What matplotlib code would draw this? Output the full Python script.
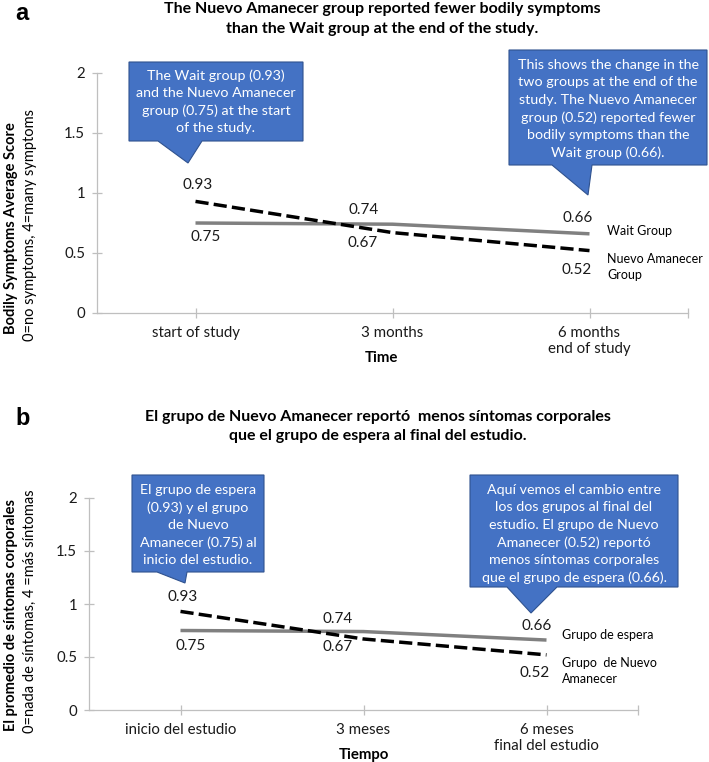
import matplotlib
matplotlib.use("Agg")
import matplotlib.pyplot as plt
from matplotlib.patches import Polygon
from matplotlib.transforms import Affine2D

# data
wait_scores = [0.75, 0.74, 0.66]
nuevo_scores = [0.93, 0.67, 0.52]
time_en = ["start of study", "3 months", "6 months\nend of study"]
time_es = ["inicio del estudio", "3 meses", "6 meses\nfinal del estudio"]
yticks = [0, 0.5, 1, 1.5, 2]

W, H = 709, 762
plt.rcParams["font.family"] = ["Lato", "DejaVu Sans"]

fig = plt.figure(figsize=(W / 100, H / 100), dpi=100)
# pixel coords, origin top-left
px = Affine2D().scale(1 / W, -1 / H).translate(0, 1) + fig.transFigure

BLUE = "#4472C4"
GRAY_LINE = "#808080"
AXIS = "#bfbfbf"
TXT = "#1a1a1a"


def callout(x0, x1, y0, y1, b0, b1, tip, lines, tx, ty):
    pts = [(x0, y0), (x1, y0), (x1, y1), (b1, y1), tip, (b0, y1), (x0, y1)]
    fig.add_artist(Polygon(pts, closed=True, transform=px, facecolor=BLUE,
                           edgecolor="#2F528F", lw=0.8))
    fig.text(tx, ty, "\n".join(lines), transform=px, ha="center", va="center",
             color="white", fontsize=10.3, linespacing=1.52)


def panel(rect, xlabels, wait_off, nuevo_off):
    ax = fig.add_axes(rect)
    x = range(len(wait_scores))
    ax.plot(x, wait_scores, color=GRAY_LINE, lw=2.5, solid_capstyle="butt")
    ax.plot(x, nuevo_scores, color="black", lw=2.5, dashes=(3.8, 1.5))
    ax.set_xlim(-0.5, 2.5)
    ax.set_ylim(0, 2)
    ax.set_yticks(yticks, ["0", "0.5", "1", "1.5", "2"])
    ax.set_xticks([0, 1, 2, 2.5], xlabels + [""])
    for s in ["top", "right"]:
        ax.spines[s].set_visible(False)
    for s in ["left", "bottom"]:
        ax.spines[s].set_color(AXIS)
        ax.spines[s].set_linewidth(0.9)
    ax.tick_params(axis="both", direction="inout", color=AXIS, length=7,
                   width=0.9, labelsize=10.8, labelcolor=TXT)
    ax.tick_params(axis="x", pad=6)
    ax.tick_params(axis="y", pad=5)
    for i in x:
        ax.annotate(f"{wait_scores[i]:.2f}", (i, wait_scores[i]), xytext=wait_off[i],
                    textcoords="offset pixels", ha="center", va="center",
                    fontsize=11, color=TXT)
        ax.annotate(f"{nuevo_scores[i]:.2f}", (i, nuevo_scores[i]), xytext=nuevo_off[i],
                    textcoords="offset pixels", ha="center", va="center",
                    fontsize=11, color=TXT)
    return ax


# ---------- panel a ----------
panel([97 / W, 1 - 313 / H, 591 / W, 240 / H], time_en,
      [(10, -14), (-29, 14), (-12, 16)], [(2, 16), (-30, -10), (-13, -19)])

fig.text(15, 20, "a", transform=px, fontsize=17, fontweight="bold",
         family="Liberation Sans", va="baseline", ha="left")
fig.text(382, 13, "The Nuevo Amanecer group reported fewer bodily symptoms",
         transform=px, ha="center", va="baseline", fontsize=11.5, fontweight="bold")
fig.text(382, 33, "than the Wait group at the end of the study.",
         transform=px, ha="center", va="baseline", fontsize=11.5, fontweight="bold")
fig.text(11, 228, "Bodily Symptoms Average Score", transform=px, rotation=90,
         ha="center", va="center", fontsize=10.5, fontweight="bold")
fig.text(30, 225, "0=no symptoms, 4=many symptoms", transform=px, rotation=90,
         ha="center", va="center", fontsize=10.5)
fig.text(381, 358, "Time", transform=px, ha="center", va="center",
         fontsize=10.8, fontweight="bold")
fig.text(607, 231, "Wait Group", transform=px, ha="left", va="center", fontsize=9)
fig.text(607, 267, "Nuevo Amanecer\nGroup", transform=px, ha="left", va="center",
         fontsize=9, linespacing=1.35)

callout(129, 303, 62, 141, 158, 202, (188, 163),
        ["The Wait group (0.93)", "and the Nuevo Amanecer",
         "group (0.75) at the start", "of the study."], 216, 102)
callout(509, 707, 50, 165, 552, 592, (588, 195),
        ["This shows the change in the", "two groups at the end of the",
         "study. The Nuevo Amanecer", "group (0.52) reported fewer",
         "bodily symptoms than the", "Wait group (0.66)."], 608, 109)

# ---------- panel b ----------
panel([89 / W, 1 - 710 / H, 549 / W, 212 / H], time_es,
      [(10, -15), (-26, 13), (-10, 14)], [(2, 14), (-26, -8), (-12, -18)])

fig.text(15, 425, "b", transform=px, fontsize=17, fontweight="bold",
         family="Liberation Sans", va="baseline", ha="left")
fig.text(378, 421, "El grupo de Nuevo Amanecer reportó  menos síntomas corporales",
         transform=px, ha="center", va="baseline", fontsize=11.5, fontweight="bold")
fig.text(378, 440, "que el grupo de espera al final del estudio.",
         transform=px, ha="center", va="baseline", fontsize=11.5, fontweight="bold")
fig.text(11, 615, "El promedio de síntomas corporales", transform=px, rotation=90,
         ha="center", va="center", fontsize=10.5, fontweight="bold")
fig.text(30, 611, "0=nada de síntomas, 4 =más síntomas", transform=px, rotation=90,
         ha="center", va="center", fontsize=10.5)
fig.text(364, 755, "Tiempo", transform=px, ha="center", va="center",
         fontsize=10.8, fontweight="bold")
fig.text(562, 635, "Grupo de espera", transform=px, ha="left", va="center", fontsize=9)
fig.text(562, 671, "Grupo  de Nuevo\nAmanecer", transform=px, ha="left", va="center",
         fontsize=9, linespacing=1.35)

callout(132, 264, 475, 572, 157, 187, (185, 583),
        ["El grupo de espera", "(0.93) y el grupo", "de Nuevo",
         "Amanecer (0.75) al", "inicio del estudio."], 198, 525)
callout(470, 678, 475, 587, 507, 557, (531, 613),
        ["Aquí vemos el cambio entre", "los dos grupos al final del",
         "estudio. El grupo de Nuevo", "Amanecer (0.52) reportó",
         "menos síntomas corporales", "que el grupo de espera (0.66)."], 574, 534)

fig.savefig("out.png", dpi=100)
